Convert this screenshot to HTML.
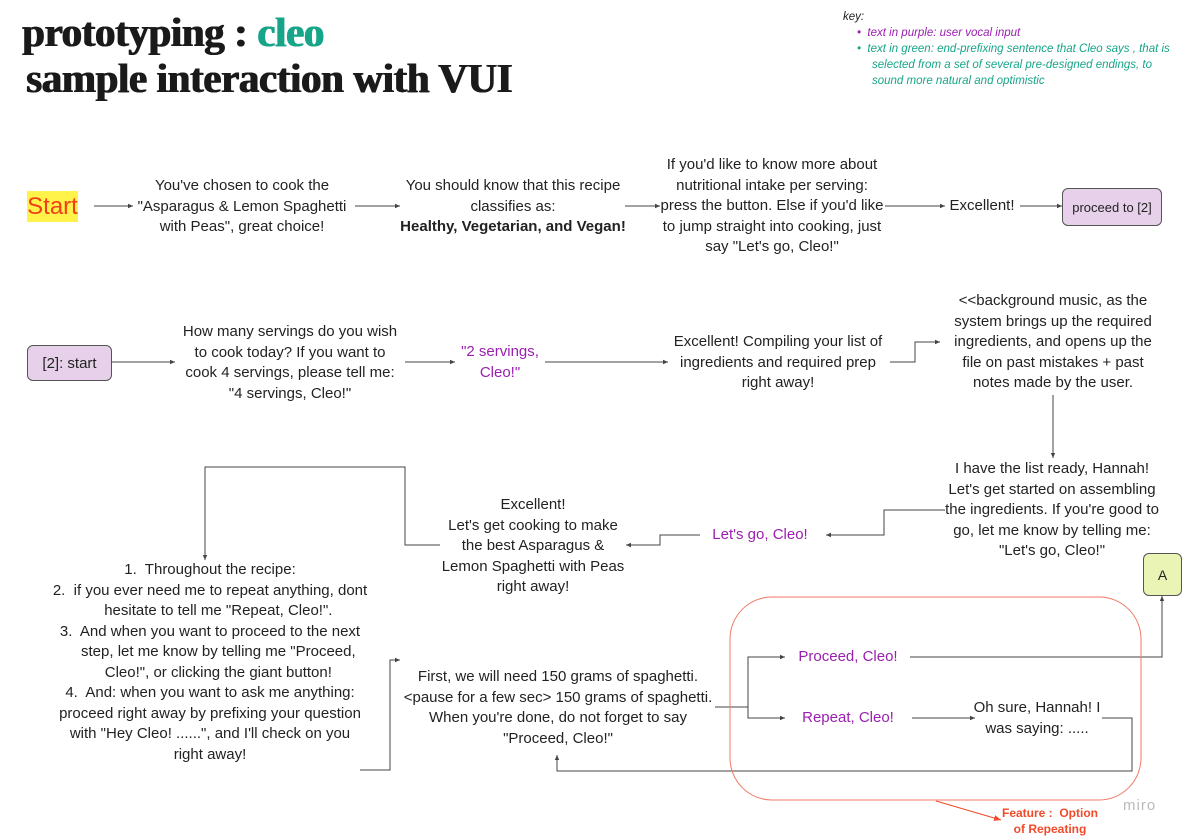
<!DOCTYPE html>
<html><head><meta charset="utf-8"><style>
body{margin:0;width:1189px;height:840px;background:#fff;position:relative;overflow:hidden;font-family:"Liberation Sans",sans-serif;color:#222}
.t{position:absolute;text-align:center;font-size:15px;line-height:20.5px;white-space:nowrap;transform:translateX(-50%)}
.p{color:#9a1fb0}
.h{position:absolute;font-family:"Liberation Serif",serif;font-weight:bold;font-size:41px;letter-spacing:-0.4px;color:#1a1a1a;white-space:nowrap;text-shadow:0.8px 0 0 currentColor,-0.4px 0 0 currentColor}
.key{position:absolute;font-size:11.5px;font-style:italic;white-space:nowrap;line-height:16px}
.box{position:absolute;border:1px solid #555;border-radius:6px;font-size:14px;display:flex;align-items:center;justify-content:center;box-sizing:border-box}
</style></head><body>
<div class="h" style="left:22px;top:8px">prototyping : <span style="color:#17a589">cleo</span></div>
<div class="h" style="left:26px;top:54px">sample interaction with VUI</div>

<div class="key" style="left:843px;top:9px">key:</div>
<div class="key" style="left:857px;top:25px;color:#9a1fb0">•&nbsp;&nbsp;text in purple: user vocal input</div>
<div class="key" style="left:857px;top:41px;color:#17a589">•&nbsp;&nbsp;text in green: end-prefixing sentence that Cleo says , that is</div>
<div class="key" style="left:872px;top:57px;color:#17a589">selected from a set of several pre-designed endings, to</div>
<div class="key" style="left:872px;top:73px;color:#17a589">sound more natural and optimistic</div>

<div style="position:absolute;left:27px;top:191px;width:51px;height:31px;background:#fff34a;color:#f0401a;font-size:24px;line-height:31px;text-align:center">Start</div>
<div class="t" style="left:242px;top:176px">You've chosen to cook the<br>"Asparagus &amp; Lemon Spaghetti<br>with Peas", great choice!</div>
<div class="t" style="left:513px;top:176px">You should know that this recipe<br>classifies as:<br><b>Healthy, Vegetarian, and Vegan!</b></div>
<div class="t" style="left:772px;top:155px">If you'd like to know more about<br>nutritional intake per serving:<br>press the button. Else if you'd like<br>to jump straight into cooking, just<br>say "Let's go, Cleo!"</div>
<div class="t" style="left:982px;top:196px">Excellent!</div>
<div class="box" style="left:1062px;top:188px;width:100px;height:38px;background:#e6d0ea;font-size:13px">proceed to [2]</div>

<div class="box" style="left:27px;top:345px;width:85px;height:36px;background:#e6d0ea;font-size:15px">[2]: start</div>
<div class="t" style="left:290px;top:322px">How many servings do you wish<br>to cook today? If you want to<br>cook 4 servings, please tell me:<br>"4 servings, Cleo!"</div>
<div class="t p" style="left:500px;top:342px">"2 servings,<br>Cleo!"</div>
<div class="t" style="left:778px;top:332px">Excellent! Compiling your list of<br>ingredients and required prep<br>right away!</div>
<div class="t" style="left:1053px;top:291px">&lt;&lt;background music, as the<br>system brings up the required<br>ingredients, and opens up the<br>file on past mistakes + past<br>notes made by the user.</div>

<div class="t" style="left:1052px;top:459px">I have the list ready, Hannah!<br>Let's get started on assembling<br>the ingredients. If you're good to<br>go, let me know by telling me:<br>"Let's go, Cleo!"</div>
<div class="t p" style="left:760px;top:525px">Let's go, Cleo!</div>
<div class="t" style="left:533px;top:495px">Excellent!<br>Let's get cooking to make<br>the best Asparagus &amp;<br>Lemon Spaghetti with Peas<br>right away!</div>
<div class="t" style="left:210px;top:560px">1.&nbsp; Throughout the recipe:<br>2.&nbsp; if you ever need me to repeat anything, dont<br>&nbsp;&nbsp;&nbsp;&nbsp;hesitate to tell me "Repeat, Cleo!".<br>3.&nbsp; And when you want to proceed to the next<br>&nbsp;&nbsp;&nbsp;&nbsp;step, let me know by telling me "Proceed,<br>&nbsp;&nbsp;&nbsp;&nbsp;Cleo!", or clicking the giant button!<br>4.&nbsp; And: when you want to ask me anything:<br>proceed right away by prefixing your question<br>with "Hey Cleo! ......", and I'll check on you<br>right away!</div>
<div class="t" style="left:558px;top:667px">First, we will need 150 grams of spaghetti.<br>&lt;pause for a few sec&gt; 150 grams of spaghetti.<br>When you're done, do not forget to say<br>"Proceed, Cleo!"</div>
<div class="t p" style="left:848px;top:647px">Proceed, Cleo!</div>
<div class="t p" style="left:848px;top:708px">Repeat, Cleo!</div>
<div class="t" style="left:1037px;top:698px">Oh sure, Hannah! I<br>was saying: .....</div>
<div class="box" style="left:1143px;top:553px;width:39px;height:43px;background:#eaf5b5;font-size:14px">A</div>

<div style="position:absolute;left:990px;top:805px;width:120px;text-align:center;color:#f04a2a;font-weight:bold;font-size:12px;line-height:16px;white-space:nowrap">Feature :&nbsp; Option<br>of Repeating</div>
<div style="position:absolute;left:1123px;top:797px;color:#bbb;font-size:15px;letter-spacing:1px">miro</div>

<svg width="1189" height="840" style="position:absolute;left:0;top:0" fill="none" stroke="#444" stroke-width="1">
<defs><marker id="a" markerWidth="6" markerHeight="6" refX="5" refY="3" orient="auto"><path d="M0,0.8 L5,3 L0,5.2z" fill="#444" stroke="none"/></marker>
<marker id="r" markerWidth="8" markerHeight="8" refX="7" refY="4" orient="auto"><path d="M0,1 L7,4 L0,7z" fill="#f04a2a" stroke="none"/></marker></defs>
<g marker-end="url(#a)">
<path d="M94 206H133"/><path d="M355 206H400"/><path d="M625 206H660"/><path d="M885 206H945"/><path d="M1020 206H1062"/>
<path d="M111 362H175"/><path d="M405 362H455"/><path d="M545 362H668"/>
<path d="M890 362H915V342H940"/>
<path d="M1053 395V458"/>
<path d="M945 510H884V535H826"/>
<path d="M700 535H660V545H626"/>
<path d="M440 545H405V467H205V560"/>
<path d="M360 770H390V660H400"/>
<path d="M715 707H748V657H785"/><path d="M748 707V718H785"/>
<path d="M910 657H1162V596"/>
<path d="M912 718H975"/>
<path d="M1102 718H1132V771H557V755"/>
</g>
<rect x="730" y="597" width="411" height="203" rx="42" stroke="#f07a68"/>
<path d="M936 801L1001 820" stroke="#f04a2a" marker-end="url(#r)"/>
</svg>
</body></html>
